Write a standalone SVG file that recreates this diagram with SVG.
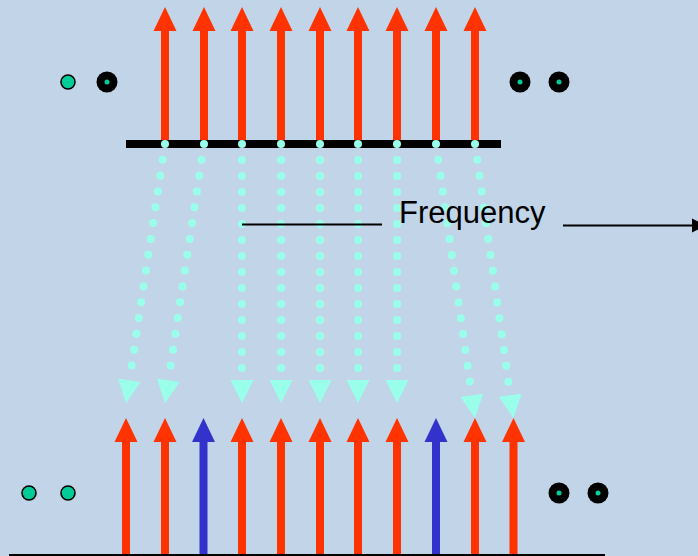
<svg xmlns="http://www.w3.org/2000/svg" width="698" height="556" viewBox="0 0 698 556">
  <style>
    .red { fill: #FF3300; }
    .blue { fill: #3333CC; }
    .ring { fill: #000000; }
    .core { fill: #00CC99; }
    .seed { fill: #00CC99; stroke: #000000; stroke-width: 1.6; }
    .map { fill: none; stroke: #99FFEA; stroke-width: 8; stroke-linecap: round; stroke-dasharray: 0 16; marker-end: url(#tri); }
    .axis { stroke: #000000; stroke-width: 2; fill: none; }
    .label { font-family: "Liberation Sans", Arial, sans-serif; font-size: 31px; fill: #000000; }
  </style>
  <defs>
    <marker id="tri" viewBox="0 0 23 23" markerWidth="23" markerHeight="23" markerUnits="userSpaceOnUse" refX="0" refY="11.5" orient="auto">
      <path d="M0,0 L23,11.5 L0,23 Z" fill="#99FFEA"/>
    </marker>
    <!-- upward arrow centred on x=0: head 7..31, shaft 31..144 -->
    <g id="upTop">
      <rect x="-4" y="30" width="8" height="114"/>
      <polygon points="-11.5,31 0,7 11.5,31"/>
    </g>
    <!-- upward arrow centred on x=0: head 418..442, shaft to bottom edge -->
    <g id="upBottom">
      <rect x="-4" y="441" width="8" height="115"/>
      <polygon points="-11.5,442 0,418 11.5,442"/>
    </g>
  </defs>

  <rect width="698" height="556" fill="#C2D5E8"/>

  <!-- upper comb of lines -->
  <g id="upper-comb">
    <use href="#upTop" x="165" class="red"/>
    <use href="#upTop" x="204" class="red"/>
    <use href="#upTop" x="242" class="red"/>
    <use href="#upTop" x="281" class="red"/>
    <use href="#upTop" x="320" class="red"/>
    <use href="#upTop" x="358" class="red"/>
    <use href="#upTop" x="397" class="red"/>
    <use href="#upTop" x="436" class="red"/>
    <use href="#upTop" x="475" class="red"/>
    <rect x="126" y="140" width="375" height="8" fill="#000000"/>
  </g>

  <!-- lower comb of lines -->
  <g id="lower-comb">
    <use href="#upBottom" x="126" class="red"/>
    <use href="#upBottom" x="165" class="red"/>
    <use href="#upBottom" x="203.5" class="blue"/>
    <use href="#upBottom" x="242" class="red"/>
    <use href="#upBottom" x="281" class="red"/>
    <use href="#upBottom" x="320" class="red"/>
    <use href="#upBottom" x="358" class="red"/>
    <use href="#upBottom" x="397" class="red"/>
    <use href="#upBottom" x="436" class="blue"/>
    <use href="#upBottom" x="475" class="red"/>
    <use href="#upBottom" x="513.5" class="red"/>
    <line x1="9" y1="555" x2="605" y2="555" stroke="#000000" stroke-width="2"/>
  </g>

  <!-- dot pairs at the sides -->
  <g id="dots-top-left">
    <circle cx="68" cy="82" r="7" class="seed"/>
    <circle cx="107" cy="82" r="10.5" class="ring"/>
    <circle cx="107" cy="82" r="2.5" class="core"/>
  </g>
  <g id="dots-top-right">
    <circle cx="520" cy="82" r="10.5" class="ring"/>
    <circle cx="520" cy="82" r="2.5" class="core"/>
    <circle cx="559" cy="82" r="10.5" class="ring"/>
    <circle cx="559" cy="82" r="2.5" class="core"/>
  </g>
  <g id="dots-bottom-left">
    <circle cx="29" cy="493" r="7" class="seed"/>
    <circle cx="68" cy="493" r="7" class="seed"/>
  </g>
  <g id="dots-bottom-right">
    <circle cx="559" cy="493" r="10.5" class="ring"/>
    <circle cx="559" cy="493" r="2.5" class="core"/>
    <circle cx="598" cy="493" r="10.5" class="ring"/>
    <circle cx="598" cy="493" r="2.5" class="core"/>
  </g>

  <!-- dotted mapping connectors -->
  <g id="connectors">
    <path class="map" d="M165,144 L129.4,380.25"/>
    <path class="map" d="M204,144 L168.4,380.25"/>
    <path class="map" d="M242,144 L242,380"/>
    <path class="map" d="M281,144 L281,380"/>
    <path class="map" d="M320,144 L320,380"/>
    <path class="map" d="M358,144 L358,380"/>
    <path class="map" d="M397,144 L397,380"/>
    <path class="map" d="M436,144 L471.76,395.2"/>
    <path class="map" d="M475,144 L510.26,395.2"/>
  </g>

  <!-- frequency axis label, drawn over the connectors -->
  <g id="frequency-axis">
    <line x1="242" y1="224.5" x2="382" y2="224.5" class="axis"/>
    <text x="399" y="223" class="label">Frequency</text>
    <line x1="563" y1="225.5" x2="694" y2="225.5" class="axis"/>
    <polygon points="692,218.5 706,225.5 692,232.5" fill="#000000"/>
  </g>
</svg>
